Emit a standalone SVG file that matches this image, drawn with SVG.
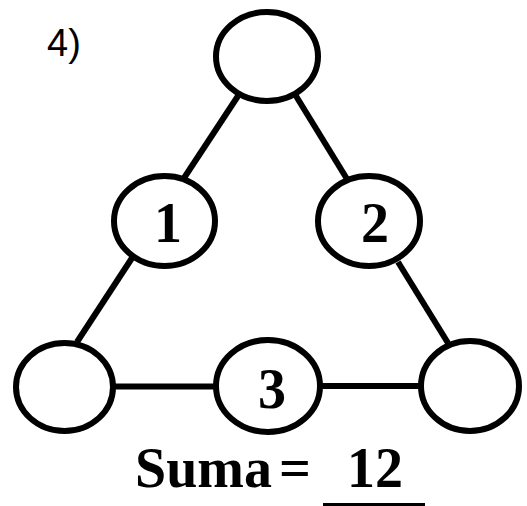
<svg xmlns="http://www.w3.org/2000/svg" width="527" height="506" viewBox="0 0 527 506">
<style>
.node{fill:#fff;stroke:#000;stroke-width:6}
.edge{stroke:#000;stroke-width:6;fill:none}
.num{font-family:"Liberation Serif","DejaVu Serif",serif;font-weight:bold;font-size:56px;fill:#000;text-anchor:middle}
.lab{font-family:"Liberation Sans","Open Sans",sans-serif;font-size:38px;fill:#000}
</style>
<rect width="527" height="506" fill="#fff"/>
<g id="connectors">
<line class="edge" x1="238" y1="96" x2="184" y2="178"/>
<line class="edge" x1="296" y1="96" x2="347" y2="179"/>
<line class="edge" x1="132" y1="258" x2="77" y2="342"/>
<line class="edge" x1="398" y1="262" x2="448" y2="343"/>
<line class="edge" x1="113" y1="386.5" x2="216" y2="386.5"/>
<line class="edge" x1="320" y1="386" x2="421" y2="386"/>
</g>
<g id="node-top"><ellipse class="node" cx="267" cy="56.5" rx="51" ry="44.5"/></g>
<g id="node-1"><ellipse class="node" cx="164.5" cy="221" rx="50.5" ry="45"/><text class="num" x="168" y="242">1</text></g>
<g id="node-2"><ellipse class="node" cx="369" cy="221" rx="51" ry="45"/><text class="num" x="375" y="242">2</text></g>
<g id="node-bl"><ellipse class="node" cx="64.5" cy="387" rx="48.5" ry="44"/></g>
<g id="node-3"><ellipse class="node" cx="268" cy="386" rx="52" ry="46"/><text class="num" x="272" y="408">3</text></g>
<g id="node-br"><ellipse class="node" cx="470" cy="386" rx="49" ry="45"/></g>
<g id="labels">
<text class="lab" x="47" y="56">4)</text>
<text class="num" x="135" y="487" style="text-anchor:start">Suma</text>
<text class="num" x="295" y="487">=</text>
<text class="num" x="375" y="487">12</text>
<line x1="323" y1="504.5" x2="425" y2="504.5" stroke="#000" stroke-width="3"/>
</g>
</svg>
